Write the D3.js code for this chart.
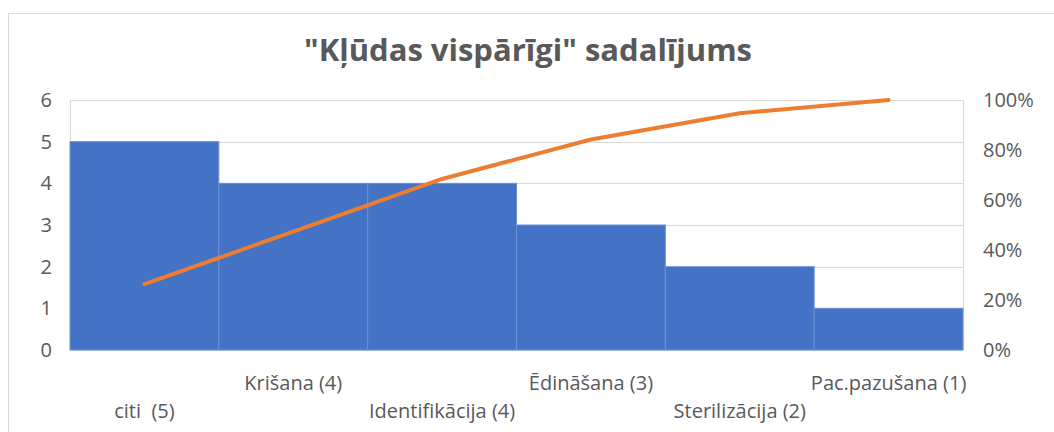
<!DOCTYPE html>
<html><head><meta charset="utf-8">
<script src="https://cdn.jsdelivr.net/npm/d3@7"></script>
<style>body{margin:0;background:#fff;}svg{display:block;font-family:"Open Sans",sans-serif;}</style>
</head><body>
<svg id="c" width="1054" height="432"></svg>
<script>
const categories = ["citi  (5)", "Krišana (4)", "Identifikācija (4)", "Ēdināšana (3)", "Sterilizācija (2)", "Pac.pazušana (1)"];
const counts = [5, 4, 4, 3, 2, 1];
const leftTicks = [0, 1, 2, 3, 4, 5, 6];
const rightTicks = [0, 0.2, 0.4, 0.6, 0.8, 1.0];
const title = "\"Kļūdas vispārīgi\" sadalījums";

const total = d3.sum(counts);
const cumulative = d3.cumsum(counts).map(v => v / total);

const svg = d3.select("#c");
const m = {l: 70, r: 963, t: 100, b: 350};

svg.append("rect").attr("x", 8.5).attr("y", 13.5).attr("width", 1100).attr("height", 500)
  .attr("fill", "none").attr("stroke", "#d9d9d9");

const x = d3.scaleBand().domain(categories).range([m.l, m.r]).padding(0);
const y = d3.scaleLinear().domain([0, 6]).range([m.b, m.t]);
const y2 = d3.scaleLinear().domain([0, 1]).range([m.b, m.t]);

// gridlines
svg.append("g").selectAll("line").data(leftTicks).join("line")
  .attr("x1", m.l).attr("x2", m.r)
  .attr("y1", d => Math.round(y(d)) + 0.5).attr("y2", d => Math.round(y(d)) + 0.5)
  .attr("stroke", "#d9d9d9").attr("stroke-width", 1);
[m.l, m.r].forEach(px => svg.append("line").attr("x1", px + 0.5).attr("x2", px + 0.5)
  .attr("y1", m.t).attr("y2", m.b).attr("stroke", "#d9d9d9"));

// bars
svg.append("g").selectAll("rect").data(counts).join("rect")
  .attr("x", (d, i) => x(categories[i]))
  .attr("y", d => y(d))
  .attr("width", x.bandwidth())
  .attr("height", d => y(0) - y(d))
  .attr("fill", "#4472c4")
  .attr("stroke", "#6d90d2").attr("stroke-width", 1);

// line
const line = d3.line().x((d, i) => x(categories[i]) + x.bandwidth() / 2).y(d => y2(d));
svg.append("path").datum(cumulative).attr("d", line)
  .attr("fill", "none").attr("stroke", "#ed7d31").attr("stroke-width", 4)
  .attr("stroke-linecap", "round").attr("stroke-linejoin", "round");

// left axis
const la = svg.append("g").attr("transform", `translate(${m.l},0)`)
  .call(d3.axisLeft(y).tickValues(leftTicks).tickSize(0).tickPadding(18).tickFormat(d3.format("d")));
la.select(".domain").remove();
la.selectAll("text").attr("fill", "#595959").attr("font-size", 20).attr("font-family", "Open Sans");

// right axis
const ra = svg.append("g").attr("transform", `translate(${m.r},0)`)
  .call(d3.axisRight(y2).tickValues(rightTicks).tickSize(0).tickPadding(20).tickFormat(d3.format(".0%")));
ra.select(".domain").remove();
ra.selectAll("text").attr("fill", "#595959").attr("font-size", 20).attr("font-family", "Open Sans");

// category labels, staggered
svg.append("g").selectAll("text").data(categories).join("text")
  .attr("x", d => x(d) + x.bandwidth() / 2)
  .attr("y", (d, i) => i % 2 === 0 ? 418 : 390)
  .attr("text-anchor", "middle").attr("fill", "#595959").attr("font-size", 20)
  .attr("xml:space", "preserve").style("white-space", "pre")
  .text(d => d);

// title
svg.append("text").attr("x", 528).attr("y", 61).attr("text-anchor", "middle")
  .attr("fill", "#595959").attr("font-size", 31).attr("font-weight", "bold")
  .text(title);
</script>
</body></html>
